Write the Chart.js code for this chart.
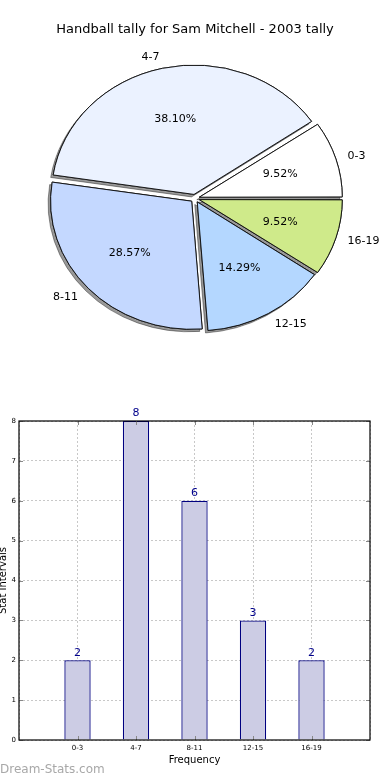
<!DOCTYPE html>
<html>
<head>
<meta charset="utf-8">
<script src="https://cdn.jsdelivr.net/npm/chart.js@4"></script>
<style>
  body { margin: 0; background: #fff; }
  #wrap { position: relative; width: 390px; height: 780px; }
  #pieBox { position: absolute; left: 0; top: 0; width: 390px; height: 390px; }
  #barBox { position: absolute; left: 0; top: 390px; width: 390px; height: 390px; }
  #mark { position: absolute; left: 0; top: 762px; font: 12px "DejaVu Sans", sans-serif; color: #a8a8a8; }
</style>
</head>
<body>
<div id="wrap">
  <div id="pieBox"><canvas id="pieChart"></canvas></div>
  <div id="barBox"><canvas id="barChart"></canvas></div>
  <div id="mark">Dream-Stats.com</div>
</div>
<script>
// data
var categories = ["0-3", "4-7", "8-11", "12-15", "16-19"];
var counts = [2, 8, 6, 3, 2];
var sliceColors = ["#ffffff", "#ebf2ff", "#c4d8ff", "#b4d7ff", "#cfea8a"];
var yTicks = [0, 1, 2, 3, 4, 5, 6, 7, 8];
var titleText = "Handball tally for Sam Mitchell - 2003 tally";

var total = counts.reduce(function(a, b) { return a + b; }, 0);

// matplotlib goes counter clockwise from 3 o'clock, chart.js clockwise -> reverse
var pieLabels = categories.slice().reverse();
var pieValues = counts.slice().reverse();
var pieColors = sliceColors.slice().reverse();

var FONT = "'DejaVu Sans', sans-serif";
var squash = 128 / 141; // the pie in the picture is an ellipse

function ellipse(chart, ctx) {
  var a = chart.getDatasetMeta(0).data[0];
  ctx.translate(a.x, a.y);
  ctx.scale(1, squash);
  ctx.translate(-a.x, -a.y);
}

var piePlugin = {
  id: 'piePlugin',
  beforeDatasetsDraw: function(chart) {
    var ctx = chart.ctx;
    // shadow pass, drawn under every slice
    ctx.save();
    ellipse(chart, ctx);
    ctx.shadowColor = 'rgba(0,0,0,0.4)';
    ctx.shadowOffsetX = -2.5;
    ctx.shadowOffsetY = 2.5;
    chart.getDatasetMeta(0).data.forEach(function(arc) { arc.draw(ctx); });
    ctx.restore();
    ctx.save();
    ellipse(chart, ctx);
  },
  afterDatasetsDraw: function(chart) {
    var ctx = chart.ctx;
    ctx.restore();
    var ds = chart.data.datasets[0];
    ctx.save();
    ctx.font = '11px ' + FONT;
    ctx.fillStyle = '#000';
    ctx.textBaseline = 'middle';
    chart.getDatasetMeta(0).data.forEach(function(arc, i) {
      var mid = (arc.startAngle + arc.endAngle) / 2;
      var d = (arc.options.offset || 0) / 4;
      var r = arc.outerRadius;
      var c = Math.cos(mid), s = Math.sin(mid);
      var x0 = arc.x + c * d;
      var y0 = arc.y + s * d * squash;
      ctx.textAlign = c >= 0 ? 'left' : 'right';
      ctx.fillText(chart.data.labels[i], x0 + 1.1 * r * c, y0 + 1.1 * r * s * squash);
      ctx.textAlign = 'center';
      var pct = (ds.data[i] / total * 100).toFixed(2) + '%';
      ctx.fillText(pct, x0 + 0.6 * r * c, y0 + 0.6 * r * s * squash);
    });
    ctx.restore();
  }
};

new Chart(document.getElementById('pieChart'), {
  type: 'pie',
  data: {
    labels: pieLabels,
    datasets: [{
      data: pieValues,
      backgroundColor: pieColors,
      borderColor: '#111',
      borderWidth: 1,
      offset: 18
    }]
  },
  options: {
    responsive: true,
    maintainAspectRatio: false,
    animation: false,
    events: [],
    rotation: 90,
    radius: 141,
    clip: false,
    layout: { padding: { top: 0, bottom: 41 } },
    plugins: {
      legend: { display: false },
      tooltip: { enabled: false },
      title: {
        display: true,
        text: titleText,
        color: '#000',
        font: { family: FONT, size: 13, weight: 'normal' },
        padding: { top: 22.2, bottom: 10 }
      }
    }
  },
  plugins: [piePlugin]
});

// bar chart
var barLabels = [''].concat(categories, ['']);
var barData = [null].concat(counts, [null]);

var framePlugin = {
  id: 'framePlugin',
  afterDatasetsDraw: function(chart) {
    var ctx = chart.ctx;
    var a = chart.chartArea;
    var xs = chart.scales.x, ys = chart.scales.y;
    ctx.save();
    // small inward tick marks like the original
    ctx.strokeStyle = '#888';
    ctx.lineWidth = 1;
    ctx.beginPath();
    for (var i = 1; i <= categories.length; i++) {
      var px = Math.round(xs.getPixelForTick(i)) + 0.5;
      ctx.moveTo(px, a.bottom); ctx.lineTo(px, a.bottom - 4);
      ctx.moveTo(px, a.top); ctx.lineTo(px, a.top + 4);
    }
    yTicks.forEach(function(v) {
      var py = Math.round(ys.getPixelForValue(v)) + 0.5;
      ctx.moveTo(a.left, py); ctx.lineTo(a.left + 4, py);
      ctx.moveTo(a.right, py); ctx.lineTo(a.right - 4, py);
    });
    ctx.stroke();
    ctx.strokeStyle = '#000';
    ctx.lineWidth = 1.2;
    ctx.strokeRect(a.left, a.top, a.right - a.left, a.bottom - a.top);
    // value labels above bars
    ctx.fillStyle = '#00008b';
    ctx.font = '11px ' + FONT;
    ctx.textAlign = 'center';
    ctx.textBaseline = 'bottom';
    chart.getDatasetMeta(0).data.forEach(function(bar, i) {
      var v = chart.data.datasets[0].data[i];
      if (v == null) return;
      ctx.fillText(String(v), bar.x, bar.y - 2);
    });
    ctx.restore();
  }
};

new Chart(document.getElementById('barChart'), {
  type: 'bar',
  data: {
    labels: barLabels,
    datasets: [{
      data: barData,
      backgroundColor: '#ccccE4',
      borderColor: '#000080',
      borderWidth: 1.3,
      barPercentage: 0.45,
      categoryPercentage: 1
    }]
  },
  options: {
    responsive: true,
    maintainAspectRatio: false,
    animation: false,
    events: [],
    layout: { padding: { top: 31, left: -3, right: 20, bottom: 0 } },
    plugins: {
      legend: { display: false },
      tooltip: { enabled: false }
    },
    scales: {
      x: {
        offset: false,
        grid: { color: '#c8c8c8', drawTicks: false, lineWidth: 1, offset: false },
        border: { display: false, dash: [2, 2] },
        ticks: { color: '#000', font: { family: FONT, size: 7 }, padding: 4, maxRotation: 0, autoSkip: false },
        title: { display: true, text: 'Frequency', color: '#000', font: { family: FONT, size: 10 }, padding: { top: 0, bottom: 14 } },
        afterFit: function(scale) { scale.height = 40; }
      },
      y: {
        min: 0,
        max: 8,
        afterBuildTicks: function(scale) {
          scale.ticks = yTicks.map(function(v) { return { value: v }; });
        },
        grid: { color: '#c8c8c8', drawTicks: false, lineWidth: 1 },
        border: { display: false, dash: [2, 2] },
        ticks: { color: '#000', font: { family: FONT, size: 7 }, padding: 3 },
        title: { display: true, text: 'Stat Intervals', color: '#000', font: { family: FONT, size: 10 }, padding: 0 },
        afterFit: function(scale) { scale.width = 22; }
      }
    }
  },
  plugins: [framePlugin]
});
</script>
</body>
</html>
